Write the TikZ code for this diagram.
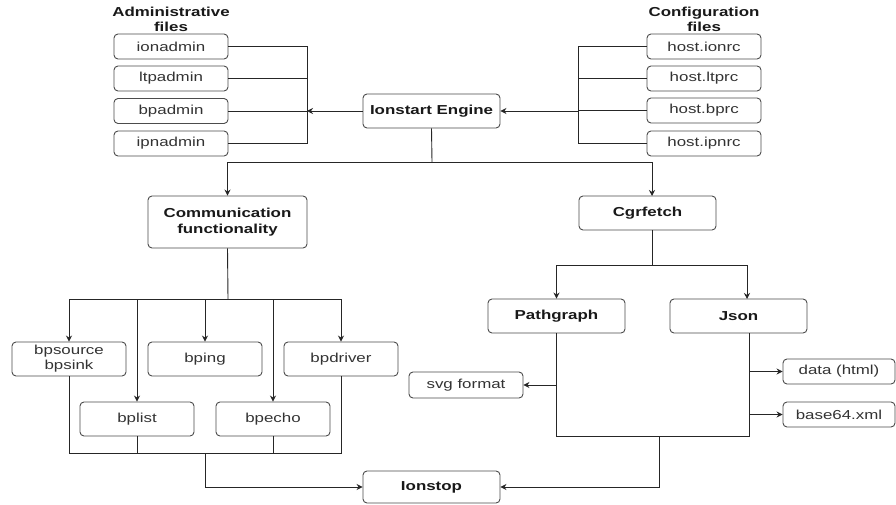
\documentclass[tikz,border=0pt]{standalone}
\usepackage{fontspec}
\setmainfont{Liberation Sans}[FakeStretch=1.3]
\usetikzlibrary{arrows.meta,calc}
\begin{document}
\begin{tikzpicture}[x=1pt,y=-1pt,
  line/.style={draw=black!85, line width=0.9pt},
  arr/.style={line, -{Stealth[length=6pt,width=6pt]}},
  box/.style={draw=black!70, rounded corners=4pt, line width=0.9pt, minimum width=114pt, minimum height=25pt, inner sep=0pt, text=black!80, align=center, font=\fontsize{13}{15}\selectfont},
  bbox/.style={box, minimum width=137pt, minimum height=34pt, text=black!90, font=\bfseries\fontsize{13}{16}\selectfont},
  midbox/.style={box, minimum height=34pt},
  title/.style={align=center, inner sep=0pt, text=black!90, font=\bfseries\fontsize{13}{15}\selectfont}]
\useasboundingbox (0,0) rectangle (896,505);
\fill[white] (0,0) rectangle (896,505);

% titles
\node[title] (admtitle) at (171,19.5) {Administrative\\files};
\node[title] (cfgtitle) at (704,19.5) {Configuration\\files};

% admin files
\node[box] (ionadmin) at (171,46.5) {ionadmin};
\node[box] (ltpadmin) at (171,78.5) {ltpadmin};
\node[box] (bpadmin)  at (171,111) {bpadmin};
\node[box] (ipnadmin) at (171,143.5) {ipnadmin};

% config files
\node[box] (ionrc) at (704,46.5) {host.ionrc};
\node[box] (ltprc) at (704,78.5) {host.ltprc};
\node[box] (bprc)  at (704,110.5) {host.bprc};
\node[box] (ipnrc) at (704,143.5) {host.ipnrc};

% main nodes
\node[bbox] (engine) at (431.5,111) {Ionstart Engine};
\node[bbox, minimum width=159pt, minimum height=52pt] (comm) at (227.5,222) {Communication\\functionality};
\node[bbox] (cgr) at (647.5,213) {Cgrfetch};
\node[bbox] (path) at (556.5,316) {Pathgraph};
\node[bbox] (json) at (738.5,316) {Json};
\node[bbox, minimum height=32pt] (ionstop) at (431.5,487) {Ionstop};

% comm children
\node[midbox] (bpsource) at (69,359) {bpsource\\bpsink};
\node[midbox] (bping)    at (205,359) {bping};
\node[midbox] (bpdriver) at (341,359) {bpdriver};
\node[midbox] (bplist)   at (137,419) {bplist};
\node[midbox] (bpecho)   at (273,419) {bpecho};

% outputs
\node[box, minimum height=26pt] (svg) at (466,385) {svg format};
\node[box, minimum width=112pt] (data) at (839,371.5) {data (html)};
\node[box, minimum width=112pt] (b64) at (839,414.5) {base64.xml};

% coordinates
\coordinate (abus) at (307,111);
\coordinate (cbus) at (578,111);
\coordinate (s1) at (432,162);
\coordinate (s2) at (228,299);
\coordinate (s3) at (205,453);
\coordinate (cx) at (652,196);
\coordinate (s4) at (652,265);
\coordinate (jx) at (747,299);
\coordinate (jb) at (749,333);
\coordinate (pb) at (659,436);

% admin bus
\draw[line] (ionadmin.east) -| (abus |- ipnadmin.east) -- (ipnadmin.east);
\draw[line] (ltpadmin.east) -- (ltpadmin.east -| abus);
\draw[line] (bpadmin.east) -- (bpadmin.east -| abus);
\draw[arr] (engine.west) -- (abus);

% config bus
\draw[line] (ionrc.west) -| (cbus |- ipnrc.west) -- (ipnrc.west);
\draw[line] (ltprc.west) -- (ltprc.west -| cbus);
\draw[line] (bprc.west) -- (bprc.west -| cbus);
\draw[arr] (cbus) -- (engine.east);

% engine split
\draw[line] (engine.south) -- (s1);
\draw[arr] (s1) -| (comm.north);
\draw[arr] (s1) -| (cx);

% comm split
\draw[line] (comm.south) -- (s2);
\draw[arr] (s2) -| (bpsource.north);
\draw[arr] (s2) -| (bplist.north);
\draw[arr] (s2) -| (bping.north);
\draw[arr] (s2) -| (bpecho.north);
\draw[arr] (s2) -| (bpdriver.north);

% comm merge
\draw[line] (bpsource.south) |- (bpdriver.south |- s3) -- (bpdriver.south);
\draw[line] (bplist.south) -- (bplist.south |- s3);
\draw[line] (bpecho.south) -- (bpecho.south |- s3);
\draw[arr] (s3) |- (ionstop.west);

% cgrfetch split
\draw[line] (cgr.south -| s4) -- (s4);
\draw[arr] (s4) -| (path.north);
\draw[arr] (s4) -| (jx);

% pathgraph / json merge
\draw[line] (path.south) |- (jb |- pb) -- (jb);
\draw[arr] (path.south |- svg.east) -- (svg.east);
\draw[arr] (jb |- data.west) -- (data.west);
\draw[arr] (jb |- b64.west) -- (b64.west);
\draw[arr] (pb) |- (ionstop.east);
\end{tikzpicture}
\end{document}
